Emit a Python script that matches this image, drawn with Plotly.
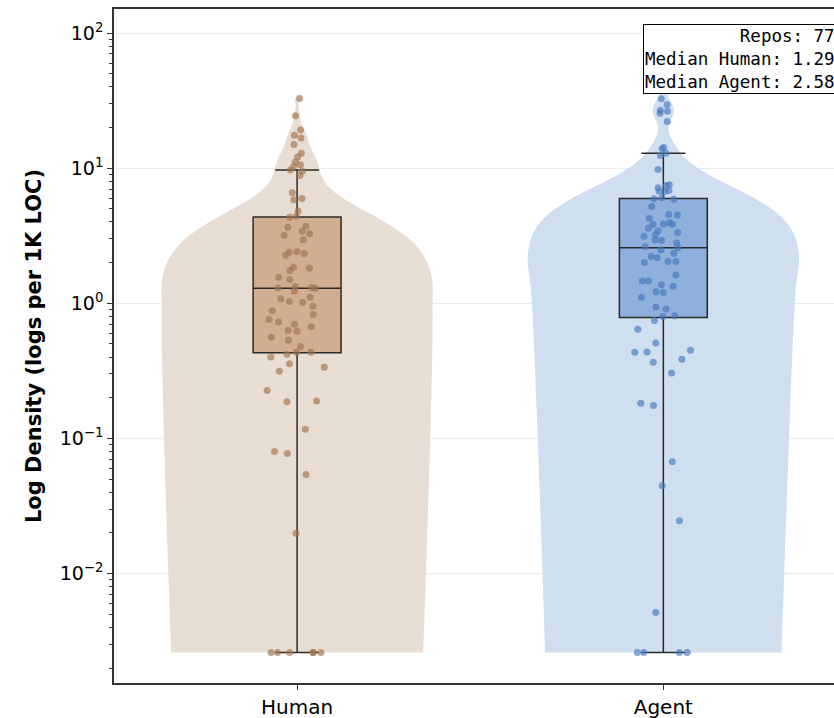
import numpy as np
import plotly.graph_objects as go

categories = ["Human", "Agent"]

human = [
    0.0026, 0.0026, 0.0026, 0.0026, 0.0026, 0.0026,
    0.0199, 0.054, 0.0774, 0.080, 0.117, 0.187, 0.189, 0.226,
    0.314, 0.336, 0.357, 0.40, 0.42, 0.434, 0.434,
    0.478, 0.532, 0.56, 0.62, 0.63, 0.672, 0.70, 0.728, 0.76, 0.825, 0.88, 0.95,
    1.02, 1.03, 1.08, 1.11, 1.23, 1.29,
    1.30, 1.31, 1.33, 1.50, 1.56, 1.75, 1.82, 1.85, 2.27, 2.34, 2.39, 2.41,
    2.95, 3.17, 3.27, 3.42, 3.65, 3.71, 4.34, 4.40,
    4.83, 5.83, 5.97, 6.57, 8.83, 9.5, 9.7, 10.3, 10.6, 11.1, 12.1, 12.9,
    15.0, 16.7, 17.5, 19.2, 24.4, 32.8,
]

agent = [
    0.0026, 0.0026, 0.0026, 0.0026,
    0.00514, 0.0246, 0.0446, 0.0672, 0.175, 0.182, 0.305, 0.366, 0.386,
    0.434, 0.436, 0.45, 0.509, 0.642, 0.745,
    0.80, 0.81, 0.909, 0.94, 1.11, 1.20, 1.22, 1.34, 1.37, 1.46, 1.46, 1.62,
    2.0, 2.04, 2.04, 2.17, 2.22, 2.34, 2.49, 2.58,
    2.62, 2.80, 2.92, 2.95, 3.13, 3.21, 3.34, 3.45, 3.6, 3.85, 3.85, 3.87,
    3.96, 4.26, 4.5, 4.54, 5.2, 5.9, 5.95, 6.03,
    6.72, 6.76, 6.83, 7.16, 7.45, 7.54, 9.78, 12.4, 12.9, 13.9, 14.2,
    22.2, 25.5, 26.4, 26.8, 29.5, 32.6, 39.0,
]

tick_vals = [0.01, 0.1, 1, 10, 100]
tick_text = ["10<sup>\u22122</sup>", "10<sup>\u22121</sup>", "10<sup>0</sup>",
             "10<sup>1</sup>", "10<sup>2</sup>"]

violin_colors = ["#e8ddd2", "#d0dff0"]
box_colors = ["#d0ae8f", "#8fb0dd"]
point_colors = ["rgba(160,115,78,0.65)", "rgba(70,120,190,0.65)"]

series = [human, agent]

fig = go.Figure()

for cat, vals, vc in zip(categories, series, violin_colors):
    arr = np.asarray(vals, dtype=float)
    bw = arr.std(ddof=1) * len(arr) ** (-1 / 5)
    fig.add_trace(go.Violin(
        x0=cat, y=vals, name=cat, showlegend=False,
        fillcolor=vc, line=dict(width=0, color=vc), opacity=1,
        points=False, box_visible=False, meanline_visible=False,
        spanmode="hard", bandwidth=bw, width=0.74, scalemode="width",
        hoverinfo="skip",
    ))

for cat, vals, bc, pc in zip(categories, series, box_colors, point_colors):
    fig.add_trace(go.Box(
        x0=cat, y=vals, name=cat, showlegend=False,
        fillcolor=bc, line=dict(color="#2a2a2a", width=1.5),
        whiskerwidth=0.5, width=0.24,
        boxpoints="all", pointpos=0, jitter=0.7,
        marker=dict(color=pc, size=7, line=dict(width=0)),
    ))

minor_vals = [k * 10.0 ** e for e in range(-3, 3) for k in range(2, 10)
              if 0.00155 <= k * 10.0 ** e <= 150]

med_h = np.median(human)
med_a = np.median(agent)
fig.add_annotation(
    xref="paper", yref="paper", x=1.004, y=0.978, xanchor="right", yanchor="top",
    text=f"Repos: {len(human)}<br>Median Human: {med_h:.2f}<br>Median Agent: {med_a:.2f}",
    align="right", showarrow=False,
    font=dict(family="DejaVu Sans Mono", size=17.5, color="black"),
    bgcolor="white", bordercolor="black", borderwidth=1, borderpad=1,
)

fig.update_layout(
    width=834, height=718,
    margin=dict(l=114, r=0, t=9, b=35),
    paper_bgcolor="white", plot_bgcolor="white",
    boxmode="overlay", violinmode="overlay",
    font=dict(family="DejaVu Sans", size=19, color="black"),
    xaxis=dict(
        type="category", range=[-0.5, 1.466],
        showline=True, linecolor="#333", linewidth=1.5, mirror=True,
        ticks="outside", ticklen=5, tickcolor="#333", showgrid=False,
        zeroline=False, tickfont=dict(size=20),
    ),
    yaxis=dict(
        type="log", range=[-2.81, 2.178],
        tickmode="array", tickvals=tick_vals, ticktext=tick_text,
        showline=True, linecolor="#333", linewidth=1.5,
        ticks="outside", ticklen=5, tickcolor="#333",
        showgrid=True, gridcolor="rgba(0,0,0,0.08)", gridwidth=1,
        zeroline=False, tickfont=dict(size=19),
        minor=dict(tickmode="array", tickvals=minor_vals, ticks="outside",
                   ticklen=3, tickcolor="#333", showgrid=False),
        title=dict(text="<b>Log Density (logs per 1K LOC)</b>",
                   font=dict(size=21), standoff=12),
    ),
)

fig.write_html(
    "out.html",
    config={"displayModeBar": False},
    post_script="document.body.style.margin='0px';"
                "document.documentElement.style.overflow='hidden';",
)
